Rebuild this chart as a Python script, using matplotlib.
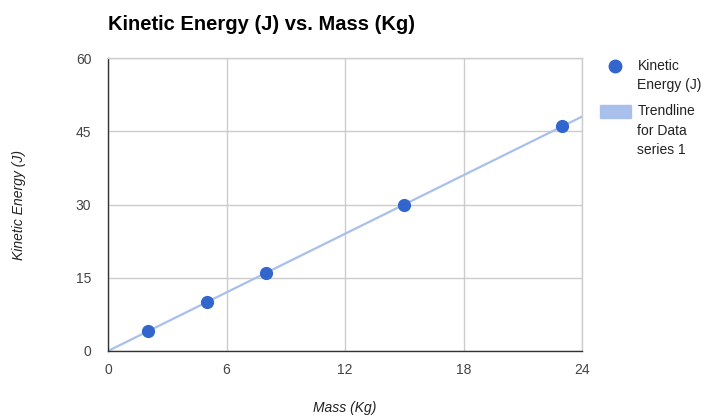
import numpy as np
import matplotlib
matplotlib.use("Agg")
import matplotlib.pyplot as plt
from matplotlib.lines import Line2D
from matplotlib.patches import Patch

plt.rcParams['font.family'] = ['Liberation Sans', 'DejaVu Sans']

# data
mass = [2, 5, 8, 15, 23]
energy = [4, 10, 16, 30, 46]
x_ticks = [0, 6, 12, 18, 24]
y_ticks = [0, 15, 30, 45, 60]

point_color = '#3366cc'
trend_color = '#a9c0ec'

fig = plt.figure(figsize=(7.07, 4.18), dpi=100)
ax = fig.add_axes([108/707, 1 - 351/418, (582-108)/707, (351-58)/418])

# linear trendline fitted to the data
slope, intercept = np.polyfit(mass, energy, 1)
tx = np.array([0, 24])
ax.plot(tx, slope*tx + intercept, color=trend_color, lw=1.6, zorder=2)
ax.scatter(mass, energy, s=72, color=point_color, zorder=3, clip_on=False)

ax.set_xlim(0, 24)
ax.set_ylim(0, 60)
ax.set_xticks(x_ticks)
ax.set_yticks(y_ticks)
ax.grid(True, color='#cccccc', lw=1)
ax.set_axisbelow(True)
ax.tick_params(length=0, labelsize=10, labelcolor='#444444')
ax.tick_params(axis='x', pad=8.5)
ax.tick_params(axis='y', pad=12)
for s in ['top', 'right']:
    ax.spines[s].set_color('#cccccc')
    ax.spines[s].set_linewidth(1)
for s in ['left', 'bottom']:
    ax.spines[s].set_color('#333333')
    ax.spines[s].set_linewidth(1)

ax.set_xlabel('Mass (Kg)', fontsize=10, style='italic', color='#222222', va='center')
ax.xaxis.set_label_coords(0.5, (351-408)/293)
ax.set_ylabel('Kinetic Energy (J)', fontsize=10, style='italic', color='#222222', va='center')
ax.yaxis.set_label_coords((19-108)/474, 0.5)
fig.text(108/707, 1 - 25/418, 'Kinetic Energy (J) vs. Mass (Kg)', fontsize=14.5,
         fontweight='bold', color='#000000', va='center', ha='left')

handles = [
    Line2D([], [], marker='o', ls='', color=point_color, markersize=9),
    Patch(color=trend_color),
]
labels = ['Kinetic\nEnergy (J)', 'Trendline\nfor Data\nseries 1']
leg = fig.legend(handles, labels, loc='upper left', bbox_to_anchor=(593/707, 1 - 52/418),
                 frameon=False, fontsize=10, labelcolor='#222222', handlelength=2.2,
                 handleheight=1.1, handletextpad=0.5, labelspacing=0.85, borderpad=0)
for t in leg.get_texts():
    t.set_linespacing(1.5)

# move the legend keys up to the first line of their label
line_step = 20 * 72 / 100
leg.legend_handles[0].set_ydata(np.asarray(leg.legend_handles[0].get_ydata()) + line_step / 2)
leg.legend_handles[1].set_y(leg.legend_handles[1].get_y() + line_step)

fig.savefig('out.png', dpi=100)
